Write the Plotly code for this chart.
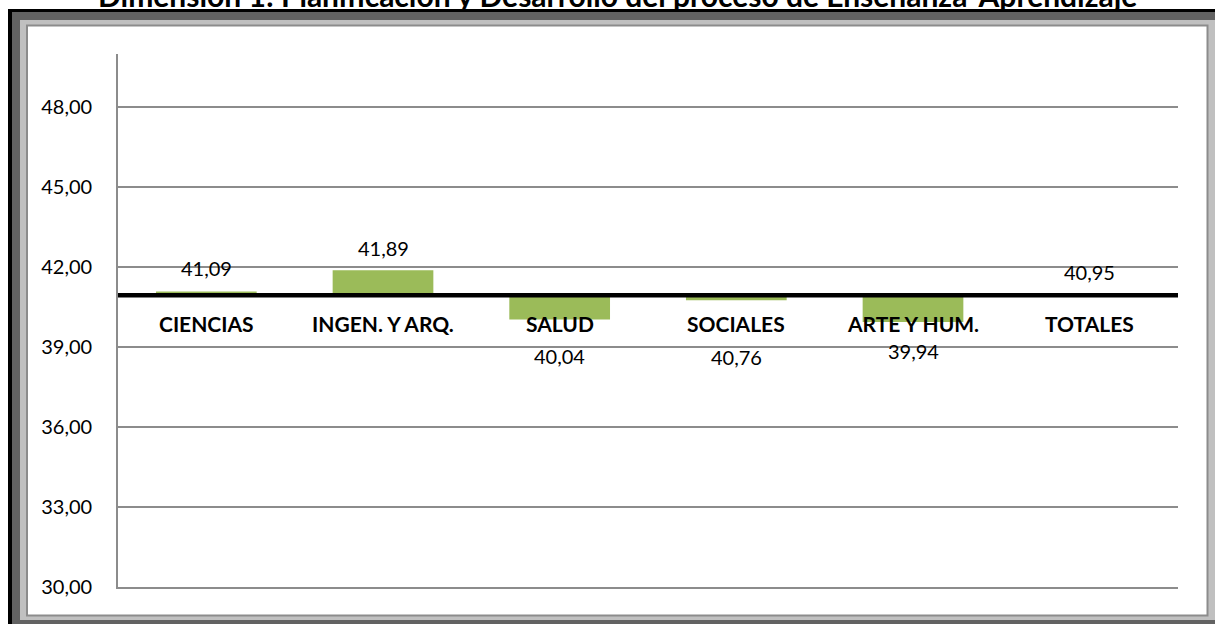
import plotly.graph_objects as go

categories = ["CIENCIAS", "INGEN. Y ARQ.", "SALUD", "SOCIALES", "ARTE Y HUM.", "TOTALES"]
values = [41.09, 41.89, 40.04, 40.76, 39.94, 40.95]
baseline = 40.95
y_ticks = [30, 33, 36, 39, 42, 45, 48]
title_text = "Dimensión 1: Planificación y Desarrollo del proceso de Enseñanza-Aprendizaje"

# label vertical offsets in px (style only)
label_dy = [23, 22, -37, -57, -29, 23]

W, H = 1215, 624
L, R, T, B = 118, 1178, 54, 587

def px(x):
    return (x - L) / (R - L)

def py(y):
    return (B - y) / (B - T)

FONT = "Lato, 'Open Sans', sans-serif"

fig = go.Figure()
fig.add_trace(go.Bar(
    x=categories,
    y=[v - baseline for v in values],
    base=baseline,
    marker=dict(color="#9BBB59", line=dict(width=0)),
    width=0.57,
    hoverinfo="skip",
))

annotations = []
for c, v, dy in zip(categories, values, label_dy):
    annotations.append(dict(
        x=c, y=v, xref="x", yref="y", yanchor="middle", yshift=dy,
        text=f"{v:.2f}".replace(".", ","), showarrow=False,
        font=dict(family=FONT, size=20, color="#000"),
    ))
    annotations.append(dict(
        x=c, y=baseline, xref="x", yref="y", yanchor="middle", yshift=-28,
        text=f"<b>{c}</b>", showarrow=False,
        font=dict(family=FONT, size=21, color="#000"),
    ))

annotations.append(dict(
    x=px(617), y=py(15), xref="paper", yref="paper", xanchor="center", yanchor="bottom",
    text=f"<b>{title_text}</b>", showarrow=False,
    font=dict(family=FONT, size=30, color="#000"),
))

shapes = [
    dict(type="rect", xref="paper", yref="paper", x0=px(8), x1=px(1230), y0=py(9), y1=py(640),
         fillcolor="#000000", line=dict(width=0), layer="below"),
    dict(type="rect", xref="paper", yref="paper", x0=px(12), x1=px(1230), y0=py(12), y1=py(640),
         fillcolor="#626262", line=dict(width=0), layer="below"),
    dict(type="rect", xref="paper", yref="paper", x0=px(20), x1=px(1230), y0=py(20), y1=py(620),
         fillcolor="#C0C0C0", line=dict(width=0), layer="below"),
    dict(type="rect", xref="paper", yref="paper", x0=px(27), x1=px(1207.5), y0=py(25.5), y1=py(615.5),
         fillcolor="#FFFFFF", line=dict(width=2, color="#8C8C8C"), layer="below"),
    dict(type="line", xref="x domain", yref="y", x0=0, x1=1, y0=baseline, y1=baseline,
         line=dict(color="#000000", width=4.5), layer="above"),
]

fig.update_layout(
    width=W, height=H,
    margin=dict(l=L, r=W - R, t=T, b=H - B),
    paper_bgcolor="#FFFFFF",
    plot_bgcolor="rgba(0,0,0,0)",
    separators=",.",
    showlegend=False,
    bargap=0.43,
    xaxis=dict(showticklabels=False, showgrid=False, zeroline=False, showline=True,
               linecolor="#8C8C8C", linewidth=1.6, ticks="",
               range=[-0.5, len(categories) - 0.5]),
    yaxis=dict(range=[30, 50], tickvals=y_ticks, tickformat=".2f", showgrid=True,
               gridcolor="#8C8C8C", gridwidth=1.6, zeroline=False, showline=True,
               linecolor="#8C8C8C", linewidth=1.6, ticks="", ticklabelstandoff=20,
               tickfont=dict(family=FONT, size=20, color="#000")),
    annotations=annotations,
    shapes=shapes,
)

fig.write_html("out.html", config={"displayModeBar": False},
               post_script="document.body.style.margin='0';document.body.style.overflow='hidden';")
